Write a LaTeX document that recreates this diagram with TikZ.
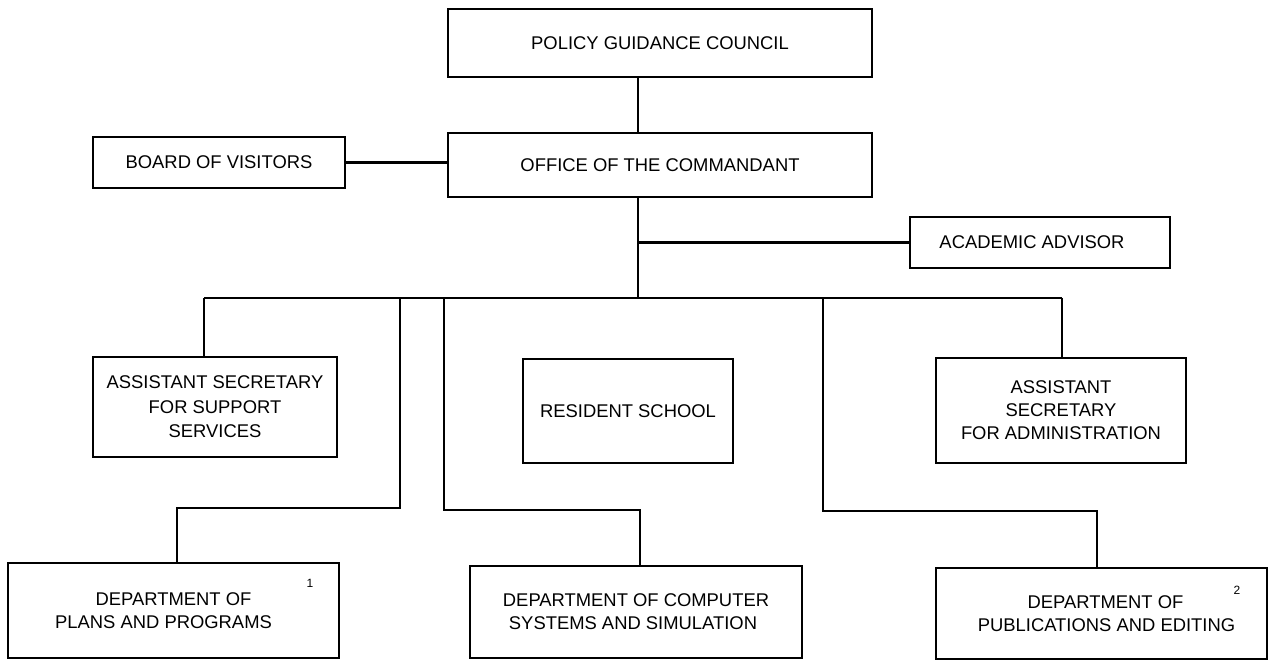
\documentclass[tikz,border=0pt]{standalone}
\usepackage{fontspec}
\setmainfont{Liberation Sans}
\begin{document}
\begin{tikzpicture}[x=1pt,y=-1pt,
  orgbox/.style={draw=black, line width=2.6pt, inner sep=0pt, align=center,
    font=\fontsize{18.4}{23}\selectfont, fill=white},
  conn/.style={draw=black, line width=2.2pt},
  note/.style={inner sep=0pt, font=\fontsize{12}{14}\selectfont}]
\useasboundingbox (0,0) rectangle (1269,660);
% boxes
\node[orgbox, minimum width=424pt, minimum height=68pt] (pgc) at (660,43) {POLICY GUIDANCE COUNCIL};
\node[orgbox, minimum width=424pt, minimum height=64pt] (oc) at (660,165) {OFFICE OF THE COMMANDANT};
\node[orgbox, minimum width=252pt, minimum height=51pt] (bov) at (219,162.5) {BOARD OF VISITORS};
\node[orgbox, minimum width=260pt, minimum height=51pt] (aa) at (1040,242.5) {ACADEMIC ADVISOR\hspace*{16pt}};
\node[orgbox, minimum width=244pt, minimum height=100pt, font=\fontsize{18.4}{24.5}\selectfont] (ass) at (215,407) {ASSISTANT SECRETARY\\FOR SUPPORT\\SERVICES};
\node[orgbox, minimum width=210pt, minimum height=104pt] (rs) at (628,411) {RESIDENT SCHOOL};
\node[orgbox, minimum width=250pt, minimum height=105pt] (asa) at (1061,410.5) {ASSISTANT\\SECRETARY\\FOR ADMINISTRATION};
\node[orgbox, minimum width=331pt, minimum height=95pt] (dpp) at (173.5,610.5) {DEPARTMENT OF\\PLANS AND PROGRAMS\hspace*{20pt}};
\node[orgbox, minimum width=332pt, minimum height=92pt] (dcs) at (636,612) {DEPARTMENT OF COMPUTER\\SYSTEMS AND SIMULATION\hspace*{6pt}};
\node[orgbox, minimum width=331pt, minimum height=91pt] (dpe) at (1101.5,613.5) {\hspace*{8pt}DEPARTMENT OF\\\hspace*{10pt}PUBLICATIONS AND EDITING};
\node[note] (n1) at (310,583) {1};
\node[note] (n2) at (1237,590) {2};
% routing points
\coordinate (sp) at (638,0);
\coordinate (busL) at (204,298);
\coordinate (busR) at (1062,298);
\coordinate (b1) at (400,298);
\coordinate (k1) at (177,508);
\coordinate (b2) at (444,298);
\coordinate (k2) at (640,510);
\coordinate (b3) at (823,298);
\coordinate (k3) at (1097,511);
% connectors
\draw[conn] (pgc.south -| sp) -- (oc.north -| sp);
\draw[conn] (bov.east) -- (bov.east -| oc.west);
\draw[conn] (oc.south -| sp) -- (sp |- busL);
\draw[conn] (sp |- aa.west) -- (aa.west);
\draw[conn] (busL) -- (busR);
\draw[conn] (busL) -- (busL |- ass.north);
\draw[conn] (busR) -- (busR |- asa.north);
\draw[conn] (b1) |- (k1) -- (k1 |- dpp.north);
\draw[conn] (b2) |- (k2) -- (k2 |- dcs.north);
\draw[conn] (b3) |- (k3) -- (k3 |- dpe.north);
\end{tikzpicture}
\end{document}
